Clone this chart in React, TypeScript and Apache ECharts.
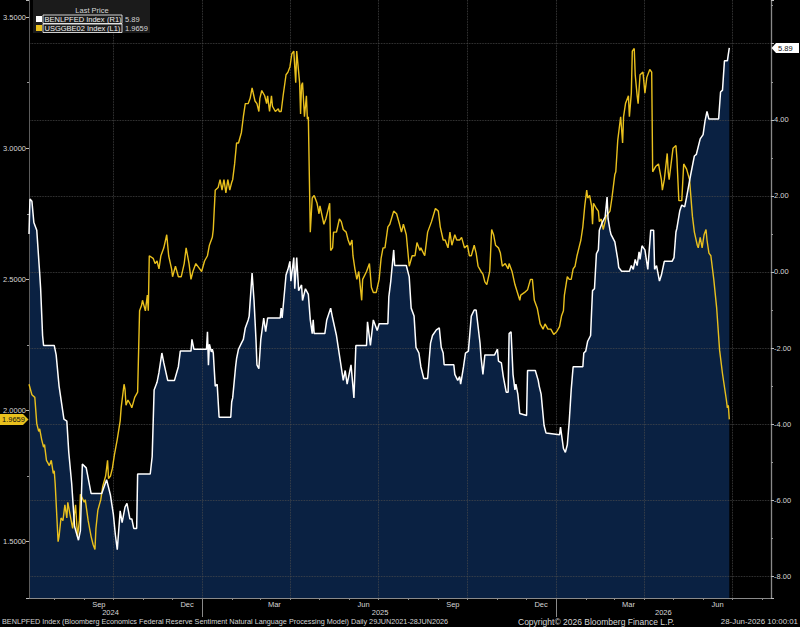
import React, { useEffect, useRef } from "react";
import * as echarts from "echarts";

// ---------- axis range (daily categories) ----------
const AXIS_START = "2024-07-06";
const AXIS_END = "2026-08-10";
const MONTH_NAMES = ["Jan", "Feb", "Mar", "Apr", "May", "Jun", "Jul", "Aug", "Sep", "Oct", "Nov", "Dec"];
const LABEL_MONTHS = [9, 12, 3, 6];
const YEAR_LABEL_DATES = ["2024-09-28", "2025-07-03", "2026-04-21"];

// ---------- series (date, value) ----------
const benlpfed: [string, number][] = [
  ["2024-07-06", 1.0], ["2024-07-07", 1.92], ["2024-07-09", 1.86], ["2024-07-11", 1.3], ["2024-07-14", 1.1],
  ["2024-07-17", -0.03], ["2024-07-18", -0.44], ["2024-07-20", -1.67], ["2024-07-21", -1.93], ["2024-08-01", -1.93],
  ["2024-08-03", -2.18], ["2024-08-06", -3.0], ["2024-08-11", -3.87], ["2024-08-14", -3.92], ["2024-08-16", -4.74],
  ["2024-08-19", -5.56], ["2024-08-22", -6.69], ["2024-08-26", -7.05], ["2024-08-28", -6.8], ["2024-08-30", -5.05],
  ["2024-09-03", -5.15], ["2024-09-08", -5.82], ["2024-09-19", -5.82], ["2024-09-24", -5.46], ["2024-09-28", -5.87],
  ["2024-10-01", -6.38], ["2024-10-03", -6.9], ["2024-10-05", -7.3], ["2024-10-08", -6.28], ["2024-10-10", -6.59],
  ["2024-10-13", -6.18], ["2024-10-15", -6.08], ["2024-10-18", -6.49], ["2024-10-20", -6.49], ["2024-10-22", -6.74],
  ["2024-10-25", -6.74], ["2024-10-26", -5.31], ["2024-11-08", -5.31], ["2024-11-10", -4.85], ["2024-11-12", -3.1],
  ["2024-11-15", -2.9], ["2024-11-17", -2.64], ["2024-11-20", -2.13], ["2024-11-22", -2.39], ["2024-11-26", -2.85],
  ["2024-12-03", -2.85], ["2024-12-07", -2.49], ["2024-12-09", -2.08], ["2024-12-20", -2.08], ["2024-12-21", -1.77],
  ["2024-12-23", -2.03], ["2025-01-05", -2.03], ["2025-01-06", -1.57], ["2025-01-07", -2.45], ["2025-01-08", -1.9],
  ["2025-01-10", -2.1], ["2025-01-11", -2.03], ["2025-01-12", -2.13], ["2025-01-14", -3.0], ["2025-01-16", -2.95],
  ["2025-01-18", -3.82], ["2025-01-30", -3.82], ["2025-01-31", -3.41], ["2025-02-01", -3.31], ["2025-02-04", -2.49],
  ["2025-02-05", -2.28], ["2025-02-07", -2.03], ["2025-02-10", -1.87], ["2025-02-12", -1.77], ["2025-02-14", -1.47],
  ["2025-02-17", -1.26], ["2025-02-18", -1.16], ["2025-02-21", -0.03], ["2025-02-23", -0.75], ["2025-02-25", -1.77],
  ["2025-02-26", -2.44], ["2025-02-28", -2.54], ["2025-03-02", -1.77], ["2025-03-05", -1.21], ["2025-03-07", -1.57],
  ["2025-03-09", -1.21], ["2025-03-22", -1.21], ["2025-03-23", -0.95], ["2025-03-24", -1.21], ["2025-03-28", -0.08],
  ["2025-03-30", 0.07], ["2025-04-01", 0.28], ["2025-04-02", -0.24], ["2025-04-05", 0.38], ["2025-04-06", -0.44],
  ["2025-04-08", 0.38], ["2025-04-10", -0.49], ["2025-04-13", -0.34], ["2025-04-14", -0.75], ["2025-04-17", -0.44],
  ["2025-04-20", -0.59], ["2025-04-22", -1.26], ["2025-04-24", -1.62], ["2025-04-25", -1.26], ["2025-04-26", -1.62],
  ["2025-05-07", -1.62], ["2025-05-09", -1.26], ["2025-05-13", -0.95], ["2025-05-15", -1.21], ["2025-05-19", -1.67],
  ["2025-05-22", -2.18], ["2025-05-26", -2.85], ["2025-05-28", -2.59], ["2025-05-30", -2.95], ["2025-06-03", -2.44],
  ["2025-06-06", -3.31], ["2025-06-08", -1.93], ["2025-06-19", -1.93], ["2025-06-20", -1.31], ["2025-06-23", -1.93],
  ["2025-06-26", -1.26], ["2025-06-30", -1.54], ["2025-07-02", -1.36], ["2025-07-11", -1.36], ["2025-07-12", -0.65],
  ["2025-07-14", -0.24], ["2025-07-17", 0.58], ["2025-07-18", 0.17], ["2025-07-30", 0.17], ["2025-08-01", -0.03],
  ["2025-08-02", -0.13], ["2025-08-04", -0.95], ["2025-08-07", -1.16], ["2025-08-09", -1.98], ["2025-08-12", -2.13],
  ["2025-08-14", -2.49], ["2025-08-17", -2.8], ["2025-08-21", -2.8], ["2025-08-24", -1.87], ["2025-08-26", -1.67],
  ["2025-08-30", -1.52], ["2025-09-02", -1.47], ["2025-09-04", -1.98], ["2025-09-06", -2.13], ["2025-09-07", -2.44],
  ["2025-09-17", -2.44], ["2025-09-18", -2.69], ["2025-09-21", -2.85], ["2025-09-23", -2.75], ["2025-09-24", -2.95],
  ["2025-09-25", -2.8], ["2025-09-27", -2.49], ["2025-09-29", -2.13], ["2025-10-02", -2.08], ["2025-10-03", -1.77],
  ["2025-10-05", -1.16], ["2025-10-08", -1.0], ["2025-10-10", -1.0], ["2025-10-14", -1.87], ["2025-10-15", -2.23],
  ["2025-10-17", -2.69], ["2025-10-19", -2.18], ["2025-10-29", -2.18], ["2025-11-01", -2.03], ["2025-11-02", -2.34],
  ["2025-11-05", -2.39], ["2025-11-07", -2.75], ["2025-11-10", -3.16], ["2025-11-12", -3.16], ["2025-11-13", -1.62],
  ["2025-11-15", -1.57], ["2025-11-17", -2.69], ["2025-11-19", -3.1], ["2025-11-20", -2.95], ["2025-11-22", -3.21],
  ["2025-11-24", -3.72], ["2025-12-01", -3.77], ["2025-12-02", -2.59], ["2025-12-10", -2.59], ["2025-12-13", -2.85],
  ["2025-12-14", -3.0], ["2025-12-16", -3.21], ["2025-12-19", -4.03], ["2025-12-21", -4.23], ["2026-01-04", -4.28],
  ["2026-01-05", -4.08], ["2026-01-08", -4.64], ["2026-01-10", -4.74], ["2026-01-12", -4.54], ["2026-01-14", -3.92],
  ["2026-01-16", -3.1], ["2026-01-18", -2.49], ["2026-01-28", -2.49], ["2026-01-29", -2.13], ["2026-01-31", -2.08],
  ["2026-02-02", -1.82], ["2026-02-05", -1.67], ["2026-02-06", -1.06], ["2026-02-07", -0.49], ["2026-02-09", -0.44],
  ["2026-02-11", 0.48], ["2026-02-13", 0.58], ["2026-02-14", 1.1], ["2026-02-17", 1.3], ["2026-02-20", 1.45],
  ["2026-02-22", 1.97], ["2026-02-23", 1.4], ["2026-02-25", 1.1], ["2026-02-26", 0.99], ["2026-03-02", 0.79],
  ["2026-03-05", 0.33], ["2026-03-06", 0.12], ["2026-03-09", 0.02], ["2026-03-17", 0.02], ["2026-03-19", 0.17],
  ["2026-03-21", 0.07], ["2026-03-23", 0.33], ["2026-03-25", 0.17], ["2026-03-27", 0.53], ["2026-03-28", 0.33],
  ["2026-03-30", 0.69], ["2026-04-02", 0.58], ["2026-04-05", 0.07], ["2026-04-08", 1.1], ["2026-04-11", 1.1],
  ["2026-04-12", 0.07], ["2026-04-14", 0.17], ["2026-04-17", -0.24], ["2026-04-19", -0.08], ["2026-04-22", 0.28],
  ["2026-04-30", 0.28], ["2026-05-02", 0.38], ["2026-05-04", 1.05], ["2026-05-05", 1.15], ["2026-05-08", 1.61],
  ["2026-05-10", 1.76], ["2026-05-13", 1.71], ["2026-05-15", 1.97], ["2026-05-19", 2.53], ["2026-05-23", 3.05],
  ["2026-05-25", 3.09], ["2026-05-29", 3.5], ["2026-06-01", 3.61], ["2026-06-03", 3.97], ["2026-06-05", 4.22],
  ["2026-06-07", 4.02], ["2026-06-17", 4.02], ["2026-06-19", 4.73], ["2026-06-21", 4.78], ["2026-06-23", 5.55],
  ["2026-06-26", 5.55], ["2026-06-28", 5.89],
];

const usggbe02: [string, number][] = [
  ["2024-07-06", 2.1], ["2024-07-09", 2.06], ["2024-07-12", 2.05], ["2024-07-14", 1.95], ["2024-07-16", 1.92],
  ["2024-07-17", 1.93], ["2024-07-19", 1.89], ["2024-07-21", 1.86], ["2024-07-22", 1.87], ["2024-07-24", 1.81],
  ["2024-07-27", 1.79], ["2024-07-29", 1.81], ["2024-07-31", 1.76], ["2024-08-01", 1.77], ["2024-08-02", 1.72],
  ["2024-08-05", 1.5], ["2024-08-06", 1.52], ["2024-08-08", 1.59], ["2024-08-10", 1.58], ["2024-08-12", 1.64],
  ["2024-08-14", 1.59], ["2024-08-15", 1.65], ["2024-08-17", 1.61], ["2024-08-20", 1.55], ["2024-08-23", 1.64],
  ["2024-08-25", 1.52], ["2024-08-27", 1.58], ["2024-08-28", 1.68], ["2024-09-01", 1.65], ["2024-09-02", 1.66],
  ["2024-09-05", 1.58], ["2024-09-08", 1.52], ["2024-09-10", 1.49], ["2024-09-12", 1.47], ["2024-09-13", 1.55],
  ["2024-09-15", 1.62], ["2024-09-18", 1.66], ["2024-09-20", 1.71], ["2024-09-23", 1.75], ["2024-09-25", 1.81],
  ["2024-09-26", 1.74], ["2024-09-28", 1.75], ["2024-09-30", 1.78], ["2024-10-02", 1.83], ["2024-10-05", 1.89],
  ["2024-10-08", 1.96], ["2024-10-09", 2.01], ["2024-10-12", 2.1], ["2024-10-13", 2.08], ["2024-10-14", 2.02],
  ["2024-10-16", 2.04], ["2024-10-19", 2.02], ["2024-10-20", 2.01], ["2024-10-23", 2.05], ["2024-10-26", 2.07],
  ["2024-10-28", 2.38], ["2024-10-30", 2.4], ["2024-10-31", 2.42], ["2024-11-03", 2.38], ["2024-11-05", 2.44],
  ["2024-11-06", 2.38], ["2024-11-07", 2.59], ["2024-11-11", 2.58], ["2024-11-13", 2.56], ["2024-11-15", 2.57],
  ["2024-11-17", 2.54], ["2024-11-19", 2.59], ["2024-11-22", 2.62], ["2024-11-25", 2.67], ["2024-11-27", 2.59],
  ["2024-11-30", 2.54], ["2024-12-01", 2.51], ["2024-12-04", 2.55], ["2024-12-07", 2.51], ["2024-12-10", 2.51],
  ["2024-12-13", 2.56], ["2024-12-15", 2.62], ["2024-12-18", 2.56], ["2024-12-20", 2.5], ["2024-12-22", 2.53],
  ["2024-12-25", 2.56], ["2024-12-29", 2.54], ["2024-12-31", 2.53], ["2025-01-03", 2.57], ["2025-01-06", 2.59],
  ["2025-01-08", 2.63], ["2025-01-11", 2.66], ["2025-01-12", 2.69], ["2025-01-14", 2.84], ["2025-01-17", 2.85],
  ["2025-01-19", 2.88], ["2025-01-21", 2.84], ["2025-01-23", 2.88], ["2025-01-25", 2.83], ["2025-01-27", 2.88],
  ["2025-01-29", 2.84], ["2025-01-31", 2.87], ["2025-02-01", 2.88], ["2025-02-03", 2.94], ["2025-02-05", 3.02],
  ["2025-02-07", 3.02], ["2025-02-10", 3.06], ["2025-02-12", 3.12], ["2025-02-14", 3.17], ["2025-02-17", 3.17],
  ["2025-02-19", 3.19], ["2025-02-21", 3.23], ["2025-02-24", 3.18], ["2025-02-26", 3.17], ["2025-02-28", 3.14],
  ["2025-03-01", 3.19], ["2025-03-03", 3.22], ["2025-03-06", 3.2], ["2025-03-08", 3.17], ["2025-03-09", 3.2],
  ["2025-03-11", 3.14], ["2025-03-13", 3.2], ["2025-03-14", 3.16], ["2025-03-17", 3.14], ["2025-03-20", 3.15],
  ["2025-03-21", 3.14], ["2025-03-23", 3.14], ["2025-03-25", 3.2], ["2025-03-28", 3.28], ["2025-03-30", 3.29],
  ["2025-04-01", 3.31], ["2025-04-03", 3.36], ["2025-04-05", 3.37], ["2025-04-07", 3.25], ["2025-04-08", 3.37],
  ["2025-04-09", 3.33], ["2025-04-11", 3.25], ["2025-04-12", 3.13], ["2025-04-13", 3.24], ["2025-04-14", 3.25],
  ["2025-04-16", 3.12], ["2025-04-18", 3.2], ["2025-04-19", 3.11], ["2025-04-20", 3.12], ["2025-04-22", 2.68],
  ["2025-04-24", 2.81], ["2025-04-26", 2.82], ["2025-04-29", 2.79], ["2025-05-01", 2.75], ["2025-05-02", 2.78],
  ["2025-05-06", 2.71], ["2025-05-08", 2.73], ["2025-05-10", 2.76], ["2025-05-12", 2.79], ["2025-05-13", 2.61],
  ["2025-05-15", 2.62], ["2025-05-16", 2.68], ["2025-05-19", 2.68], ["2025-05-22", 2.73], ["2025-05-24", 2.72],
  ["2025-05-26", 2.69], ["2025-05-29", 2.68], ["2025-05-31", 2.65], ["2025-06-02", 2.63], ["2025-06-04", 2.65],
  ["2025-06-05", 2.59], ["2025-06-07", 2.54], ["2025-06-09", 2.5], ["2025-06-11", 2.53], ["2025-06-14", 2.42],
  ["2025-06-15", 2.5], ["2025-06-19", 2.53], ["2025-06-22", 2.56], ["2025-06-24", 2.47], ["2025-06-26", 2.45],
  ["2025-06-29", 2.45], ["2025-07-02", 2.5], ["2025-07-04", 2.58], ["2025-07-06", 2.62], ["2025-07-08", 2.62],
  ["2025-07-11", 2.7], ["2025-07-13", 2.71], ["2025-07-17", 2.76], ["2025-07-20", 2.75], ["2025-07-23", 2.71],
  ["2025-07-25", 2.68], ["2025-07-27", 2.71], ["2025-07-30", 2.67], ["2025-08-01", 2.59], ["2025-08-02", 2.55],
  ["2025-08-05", 2.59], ["2025-08-08", 2.59], ["2025-08-10", 2.64], ["2025-08-13", 2.61], ["2025-08-14", 2.62],
  ["2025-08-18", 2.59], ["2025-08-21", 2.68], ["2025-08-25", 2.72], ["2025-08-29", 2.77], ["2025-09-01", 2.76],
  ["2025-09-03", 2.7], ["2025-09-06", 2.65], ["2025-09-08", 2.65], ["2025-09-11", 2.62], ["2025-09-13", 2.68],
  ["2025-09-15", 2.63], ["2025-09-18", 2.67], ["2025-09-20", 2.65], ["2025-09-23", 2.65], ["2025-09-25", 2.66],
  ["2025-09-28", 2.62], ["2025-10-01", 2.63], ["2025-10-03", 2.59], ["2025-10-05", 2.59], ["2025-10-08", 2.63],
  ["2025-10-10", 2.6], ["2025-10-12", 2.55], ["2025-10-15", 2.53], ["2025-10-17", 2.52], ["2025-10-19", 2.49],
  ["2025-10-21", 2.48], ["2025-10-24", 2.53], ["2025-10-26", 2.69], ["2025-10-28", 2.67], ["2025-10-30", 2.63],
  ["2025-11-02", 2.62], ["2025-11-04", 2.6], ["2025-11-06", 2.55], ["2025-11-09", 2.56], ["2025-11-12", 2.54],
  ["2025-11-13", 2.56], ["2025-11-16", 2.53], ["2025-11-19", 2.48], ["2025-11-24", 2.42], ["2025-11-25", 2.44],
  ["2025-11-29", 2.45], ["2025-12-02", 2.46], ["2025-12-05", 2.5], ["2025-12-07", 2.5], ["2025-12-09", 2.42],
  ["2025-12-12", 2.39], ["2025-12-15", 2.33], ["2025-12-18", 2.31], ["2025-12-20", 2.33], ["2025-12-23", 2.31],
  ["2025-12-26", 2.31], ["2025-12-29", 2.29], ["2026-01-01", 2.3], ["2026-01-04", 2.32], ["2026-01-06", 2.36],
  ["2026-01-08", 2.38], ["2026-01-09", 2.44], ["2026-01-12", 2.51], ["2026-01-14", 2.5], ["2026-01-16", 2.5],
  ["2026-01-18", 2.54], ["2026-01-20", 2.55], ["2026-01-22", 2.59], ["2026-01-24", 2.62], ["2026-01-26", 2.65],
  ["2026-01-28", 2.7], ["2026-01-30", 2.78], ["2026-02-01", 2.84], ["2026-02-02", 2.81], ["2026-02-04", 2.82],
  ["2026-02-06", 2.78], ["2026-02-07", 2.71], ["2026-02-08", 2.79], ["2026-02-11", 2.77], ["2026-02-13", 2.76],
  ["2026-02-14", 2.72], ["2026-02-16", 2.73], ["2026-02-18", 2.69], ["2026-02-20", 2.72], ["2026-02-21", 2.74],
  ["2026-02-25", 2.76], ["2026-02-27", 2.81], ["2026-03-02", 2.9], ["2026-03-03", 2.91], ["2026-03-05", 3.03],
  ["2026-03-08", 3.12], ["2026-03-10", 3.02], ["2026-03-11", 3.12], ["2026-03-13", 3.17], ["2026-03-16", 3.2],
  ["2026-03-17", 3.12], ["2026-03-19", 3.21], ["2026-03-20", 3.37], ["2026-03-22", 3.38], ["2026-03-23", 3.28],
  ["2026-03-25", 3.2], ["2026-03-26", 3.17], ["2026-03-28", 3.28], ["2026-03-31", 3.29], ["2026-04-02", 3.21],
  ["2026-04-04", 3.27], ["2026-04-07", 3.3], ["2026-04-09", 3.29], ["2026-04-10", 2.91], ["2026-04-13", 2.93],
  ["2026-04-16", 2.94], ["2026-04-19", 2.88], ["2026-04-20", 2.84], ["2026-04-22", 2.88], ["2026-04-25", 2.98],
  ["2026-04-26", 2.91], ["2026-04-27", 2.88], ["2026-05-01", 3.0], ["2026-05-04", 3.01], ["2026-05-05", 2.96],
  ["2026-05-07", 2.8], ["2026-05-10", 2.8], ["2026-05-12", 2.94], ["2026-05-15", 2.92], ["2026-05-18", 2.88],
  ["2026-05-21", 2.74], ["2026-05-23", 2.68], ["2026-05-26", 2.63], ["2026-05-27", 2.62], ["2026-05-29", 2.66],
  ["2026-05-31", 2.62], ["2026-06-02", 2.67], ["2026-06-04", 2.69], ["2026-06-05", 2.65], ["2026-06-07", 2.6],
  ["2026-06-09", 2.59], ["2026-06-12", 2.5], ["2026-06-15", 2.39], ["2026-06-18", 2.23], ["2026-06-21", 2.14],
  ["2026-06-25", 2.04], ["2026-06-26", 2.01], ["2026-06-27", 2.02], ["2026-06-28", 1.9659],
];

// ---------- text ----------
const LEGEND_TITLE = "Last Price";
const WHITE_NAME = "BENLPFED Index";
const YELLOW_NAME = "USGGBE02 Index";
const FOOTER_LEFT =
  "BENLPFED Index (Bloomberg Economics Federal Reserve Sentiment Natural Language Processing Model) Daily 29JUN2021-28JUN2026";
const FOOTER_MID = "Copyright\u00A9 2026 Bloomberg Finance L.P.";
const FOOTER_RIGHT = "28-Jun-2026 10:00:01";

const FONT = '"Liberation Sans", Arial, sans-serif';
const TXT = "#d6d6d6";
const YELLOW = "#e9c01d";
const NAVY = "#0a2142";
const GRID = "#4d4d4d";
const AXIS = "#8a8a8a";

const DAY = 86400000;
const parseDay = (s: string) => {
  const [y, m, d] = s.split("-").map(Number);
  return Date.UTC(y, m - 1, d);
};
const fmtDay = (t: number) => {
  const dt = new Date(t);
  const mm = String(dt.getUTCMonth() + 1).padStart(2, "0");
  const dd = String(dt.getUTCDate()).padStart(2, "0");
  return `${dt.getUTCFullYear()}-${mm}-${dd}`;
};

function buildDays(): string[] {
  const out: string[] = [];
  const t1 = parseDay(AXIS_END);
  for (let t = parseDay(AXIS_START); t <= t1; t += DAY) out.push(fmtDay(t));
  return out;
}

export default function App() {
  const ref = useRef<HTMLDivElement>(null);

  useEffect(() => {
    document.body.style.margin = "0";
    document.body.style.background = "#000";
    if (!ref.current) return;
    const chart = echarts.init(ref.current, undefined, { renderer: "svg" });

    const days = buildDays();
    const t0 = parseDay(AXIS_START);
    const toIdx = (s: string) => Math.round((parseDay(s) - t0) / DAY);
    const whiteData = benlpfed.map(([d, v]) => [toIdx(d), v]);
    const yellowData = usggbe02.map(([d, v]) => [toIdx(d), v]);

    const isMonthStart = (_: number, v: string) => v.slice(8) === "01";
    const isQuarterStart = (_: number, v: string) =>
      v.slice(8) === "01" && ["01", "04", "07", "10"].includes(v.slice(5, 7));
    const isMonthLabel = (_: number, v: string) =>
      v.slice(8) === "16" && LABEL_MONTHS.includes(Number(v.slice(5, 7)));
    const isYearStart = (_: number, v: string) => v.slice(5) === "01-01";
    const isYearLabel = (_: number, v: string) => YEAR_LABEL_DATES.includes(v);

    const axisText = { color: TXT, fontSize: 7.5, fontFamily: FONT };

    chart.setOption({
      animation: false,
      backgroundColor: "#000",
      grid: { left: 29, right: 29, top: 0, bottom: 29, containLabel: false },
      xAxis: [
        {
          type: "category",
          data: days,
          boundaryGap: false,
          position: "bottom",
          z: 2,
          axisLine: { show: true, onZero: false, lineStyle: { color: AXIS, width: 1 } },
          axisTick: { show: true, interval: isMonthStart, length: 2, lineStyle: { color: AXIS } },
          axisLabel: {
            interval: isMonthLabel,
            formatter: (v: string) => MONTH_NAMES[Number(v.slice(5, 7)) - 1],
            margin: 2,
            ...axisText,
          },
          splitLine: { show: true, interval: isQuarterStart, lineStyle: { color: GRID, type: "dotted", width: 0.8 } },
        },
        {
          type: "category",
          data: days,
          boundaryGap: false,
          position: "bottom",
          z: 2,
          axisLine: { show: false, onZero: false },
          axisTick: { show: true, interval: isYearStart, length: 19, lineStyle: { color: AXIS } },
          axisLabel: {
            interval: isYearLabel,
            formatter: (v: string) => v.slice(0, 4),
            margin: 10,
            ...axisText,
          },
          splitLine: { show: false },
        },
      ],
      yAxis: [
        {
          type: "value",
          position: "left",
          min: 1.285,
          max: 3.565,
          splitNumber: 5,
          z: 2,
          axisLine: { show: true, onZero: false, lineStyle: { color: "#5c5c5c" } },
          axisTick: { show: true, length: 3, lineStyle: { color: "#bdbdbd" } },
          minorTick: { show: true, splitNumber: 2, length: 2, lineStyle: { color: "#9a9a9a" } },
          axisLabel: {
            showMinLabel: false,
            showMaxLabel: false,
            formatter: (v: number) => v.toFixed(4),
            margin: 3,
            ...axisText,
          },
          splitLine: { show: false },
        },
        {
          type: "value",
          position: "right",
          min: -8.57,
          max: 7.15,
          splitNumber: 8,
          z: 2,
          axisLine: { show: true, onZero: false, lineStyle: { color: AXIS, width: 1.3 } },
          axisTick: { show: true, length: 3, lineStyle: { color: "#bdbdbd" } },
          minorTick: { show: true, splitNumber: 2, length: 2, lineStyle: { color: "#9a9a9a" } },
          axisLabel: {
            showMinLabel: false,
            showMaxLabel: false,
            formatter: (v: number) => (Math.abs(v - 6) < 1e-9 ? "" : v.toFixed(2)),
            margin: 3,
            ...axisText,
          },
          splitLine: {
            show: true,
            showMinLine: false,
            showMaxLine: false,
            lineStyle: { color: GRID, type: "dotted", width: 0.8 },
          },
        },
      ],
      series: [
        {
          type: "line",
          name: WHITE_NAME + " area",
          xAxisIndex: 0,
          yAxisIndex: 1,
          data: whiteData,
          symbol: "none",
          z: 1,
          lineStyle: { width: 0, opacity: 0 },
          areaStyle: { color: NAVY, opacity: 1, origin: "start" },
          silent: true,
        },
        {
          type: "line",
          name: YELLOW_NAME,
          xAxisIndex: 0,
          yAxisIndex: 0,
          data: yellowData,
          symbol: "none",
          z: 3,
          lineStyle: { color: YELLOW, width: 1.4 },
        },
        {
          type: "line",
          name: WHITE_NAME,
          xAxisIndex: 0,
          yAxisIndex: 1,
          data: whiteData,
          symbol: "none",
          z: 4,
          lineStyle: { color: "#ffffff", width: 1.5 },
        },
      ],
    });

    const lastWhite = benlpfed[benlpfed.length - 1][1];
    const lastYellow = usggbe02[usggbe02.length - 1][1];
    const yR = chart.convertToPixel({ yAxisIndex: 1 }, lastWhite) as number;
    const yL = chart.convertToPixel({ yAxisIndex: 0 }, lastYellow) as number;
    const xLeft = chart.convertToPixel({ xAxisIndex: 0 }, 0) as number;
    const xRight = chart.convertToPixel({ xAxisIndex: 0 }, days.length - 1) as number;
    const W = chart.getWidth();
    const H = chart.getHeight();

    const txt = (text: string, x: number, y: number, fill: string, align = "left", size = 7.5) => ({
      type: "text",
      z: 20,
      style: { text, x, y, fill, fontSize: size, fontFamily: FONT, align, verticalAlign: "middle" },
    });

    const lx = xLeft + 4;
    chart.setOption({
      graphic: [
        { type: "rect", z: 19, shape: { x: lx, y: 0, width: 117, height: 33 }, style: { fill: "#1b1b1b" } },
        txt(LEGEND_TITLE, lx + 59, 10.5, TXT, "center"),
        { type: "rect", z: 20, shape: { x: lx + 3, y: 16, width: 6, height: 6 }, style: { fill: "#ffffff" } },
        { type: "rect", z: 20, shape: { x: lx + 3, y: 25, width: 6, height: 6 }, style: { fill: YELLOW } },
        {
          type: "rect",
          z: 20,
          shape: { x: lx + 10, y: 15, width: 79, height: 8.5 },
          style: { fill: "none", stroke: "#ffffff", lineWidth: 0.8 },
        },
        {
          type: "rect",
          z: 20,
          shape: { x: lx + 10, y: 24, width: 79, height: 8.5 },
          style: { fill: "none", stroke: "#ffffff", lineWidth: 0.8 },
        },
        txt(WHITE_NAME, lx + 11.5, 19.4, "#f0f0f0"),
        txt("(R1)", lx + 74, 19.4, "#f0f0f0"),
        txt(YELLOW_NAME, lx + 11.5, 28.4, "#f0f0f0"),
        txt("(L1)", lx + 74, 28.4, "#f0f0f0"),
        txt(String(lastWhite.toFixed(2)), lx + 92, 19.4, TXT),
        txt(String(lastYellow.toFixed(4)), lx + 92, 28.4, TXT),
        // right-axis last value tag
        {
          type: "polygon",
          z: 20,
          shape: {
            points: [
              [xRight + 0.5, yR],
              [xRight + 5, yR - 5],
              [W - 1, yR - 5],
              [W - 1, yR + 5],
              [xRight + 5, yR + 5],
            ],
          },
          style: { fill: "#ffffff" },
        },
        txt(lastWhite.toFixed(2), xRight + 7, yR + 0.3, "#111111"),
        // left-axis last value tag
        {
          type: "polygon",
          z: 20,
          shape: {
            points: [
              [0, yL - 5.5],
              [xLeft - 6, yL - 5.5],
              [xLeft - 0.5, yL],
              [xLeft - 6, yL + 5.5],
              [0, yL + 5.5],
            ],
          },
          style: { fill: YELLOW },
        },
        txt(lastYellow.toFixed(4), 2, yL + 0.3, "#111111"),
        // footer
        txt(FOOTER_LEFT, 2, H - 5.5, TXT, "left", 7.25),
        txt(FOOTER_MID, 518, H - 5.5, TXT, "left", 8.5),
        txt(FOOTER_RIGHT, W - 2, H - 5.5, TXT, "right", 7.9),
      ],
    });

    return () => chart.dispose();
  }, []);

  return <div ref={ref} style={{ width: 800, height: 627, background: "#000" }} />;
}
